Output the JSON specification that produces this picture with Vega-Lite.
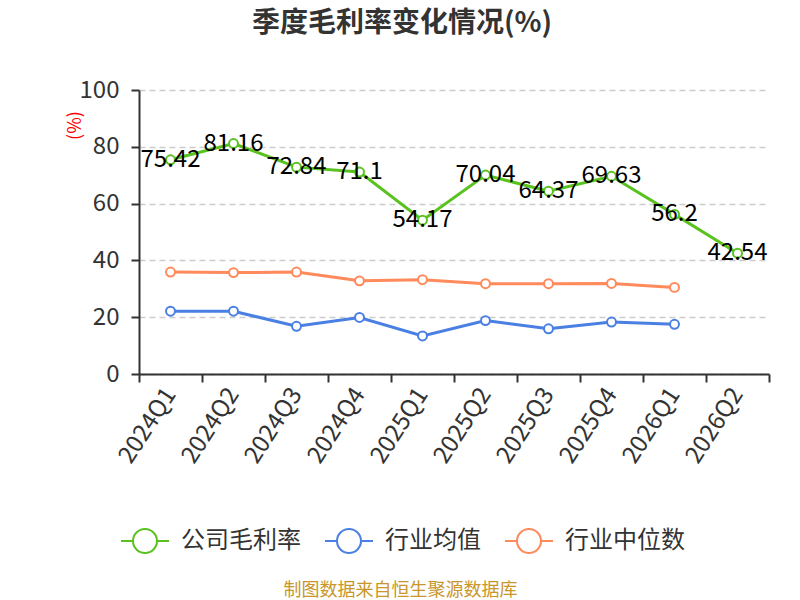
{
  "$schema": "https://vega.github.io/schema/vega-lite/v6.json",
  "description": "季度毛利率变化情况",
  "width": 630,
  "height": 284,
  "autosize": "none",
  "padding": {"left": 139, "top": 90, "right": 31, "bottom": 226},
  "background": "white",
  "title": {
    "text": "季度毛利率变化情况(%)",
    "fontSize": 28,
    "fontWeight": "bold",
    "color": "#333333",
    "anchor": "middle",
    "dx": -52,
    "offset": 40
  },
  "data": {
    "values": [
      {"q": "2024Q1", "s": "公司毛利率", "v": 75.42},
      {"q": "2024Q2", "s": "公司毛利率", "v": 81.16},
      {"q": "2024Q3", "s": "公司毛利率", "v": 72.84},
      {"q": "2024Q4", "s": "公司毛利率", "v": 71.1},
      {"q": "2025Q1", "s": "公司毛利率", "v": 54.17},
      {"q": "2025Q2", "s": "公司毛利率", "v": 70.04},
      {"q": "2025Q3", "s": "公司毛利率", "v": 64.37},
      {"q": "2025Q4", "s": "公司毛利率", "v": 69.63},
      {"q": "2026Q1", "s": "公司毛利率", "v": 56.2},
      {"q": "2026Q2", "s": "公司毛利率", "v": 42.54},
      {"q": "2024Q1", "s": "行业均值", "v": 22.1},
      {"q": "2024Q2", "s": "行业均值", "v": 22.1},
      {"q": "2024Q3", "s": "行业均值", "v": 16.8},
      {"q": "2024Q4", "s": "行业均值", "v": 19.9},
      {"q": "2025Q1", "s": "行业均值", "v": 13.4},
      {"q": "2025Q2", "s": "行业均值", "v": 18.8},
      {"q": "2025Q3", "s": "行业均值", "v": 15.9},
      {"q": "2025Q4", "s": "行业均值", "v": 18.3},
      {"q": "2026Q1", "s": "行业均值", "v": 17.5},
      {"q": "2024Q1", "s": "行业中位数", "v": 35.9},
      {"q": "2024Q2", "s": "行业中位数", "v": 35.7},
      {"q": "2024Q3", "s": "行业中位数", "v": 35.9},
      {"q": "2024Q4", "s": "行业中位数", "v": 32.8},
      {"q": "2025Q1", "s": "行业中位数", "v": 33.2},
      {"q": "2025Q2", "s": "行业中位数", "v": 31.8},
      {"q": "2025Q3", "s": "行业中位数", "v": 31.8},
      {"q": "2025Q4", "s": "行业中位数", "v": 31.9},
      {"q": "2026Q1", "s": "行业中位数", "v": 30.5}
    ]
  },
  "encoding": {
    "x": {
      "field": "q",
      "type": "ordinal",
      "sort": null,
      "scale": {"type": "band", "paddingInner": 0, "paddingOuter": 0},
      "axis": {
        "title": "制图数据来自恒生聚源数据库",
        "titleColor": "#c8962a",
        "titleFontSize": 18,
        "titleFontWeight": "normal",
        "titleX": 261,
        "titleY": 216,
        "titleAlign": "center",
        "titleBaseline": "middle",
        "labelAngle": -57,
        "labelAlign": "right",
        "labelBaseline": "middle",
        "labelFontSize": 24,
        "labelColor": "#333333",
        "labelPadding": 8,
        "tickBand": "extent",
        "tickSize": 8,
        "tickWidth": 2,
        "tickColor": "#333333",
        "domainColor": "#333333",
        "domainWidth": 2,
        "grid": false
      }
    },
    "y": {
      "field": "v",
      "type": "quantitative",
      "scale": {"domain": [0, 100]},
      "axis": {
        "title": "(%)",
        "titleColor": "red",
        "titleFontSize": 18,
        "titleFontWeight": "normal",
        "titleX": -64,
        "titleY": 35,
        "titleAlign": "center",
        "titleBaseline": "middle",
        "values": [0, 20, 40, 60, 80, 100],
        "labelFontSize": 24,
        "labelColor": "#333333",
        "labelPadding": 12,
        "tickSize": 8,
        "tickWidth": 2,
        "tickColor": "#333333",
        "domainColor": "#333333",
        "domainWidth": 2,
        "gridColor": "#cccccc",
        "gridDash": [6, 4],
        "gridWidth": 1.5
      }
    },
    "color": {
      "field": "s",
      "type": "nominal",
      "scale": {
        "domain": ["公司毛利率", "行业均值", "行业中位数"],
        "range": ["#5ac21e", "#4a7fe3", "#ff8a5b"]
      },
      "legend": {
        "orient": "none",
        "direction": "horizontal",
        "legendX": -19,
        "legendY": 426,
        "title": null,
        "padding": 0,
        "symbolType": "M-1,0L-0.5,0M0.5,0L1,0M-0.5,0A0.5,0.5,0,1,1,0.5,0A0.5,0.5,0,1,1,-0.5,0",
        "symbolSize": 2304,
        "symbolStrokeWidth": 2,
        "symbolFillColor": "white",
        "labelFontSize": 24,
        "labelColor": "#333333",
        "labelOffset": 11,
        "columnPadding": 20
      }
    }
  },
  "layer": [
    {"mark": {"type": "line", "strokeWidth": 3}},
    {
      "mark": {
        "type": "point",
        "filled": false,
        "fill": "white",
        "fillOpacity": 1,
        "opacity": 1,
        "strokeWidth": 2,
        "size": 80
      }
    },
    {
      "transform": [{"filter": "datum.s === '公司毛利率'"}],
      "mark": {"type": "text", "fontSize": 24, "baseline": "middle", "align": "center"},
      "encoding": {
        "text": {"field": "v", "type": "nominal"},
        "color": {"value": "black"}
      }
    }
  ],
  "config": {
    "font": "Noto Sans CJK SC",
    "view": {"stroke": null}
  }
}
